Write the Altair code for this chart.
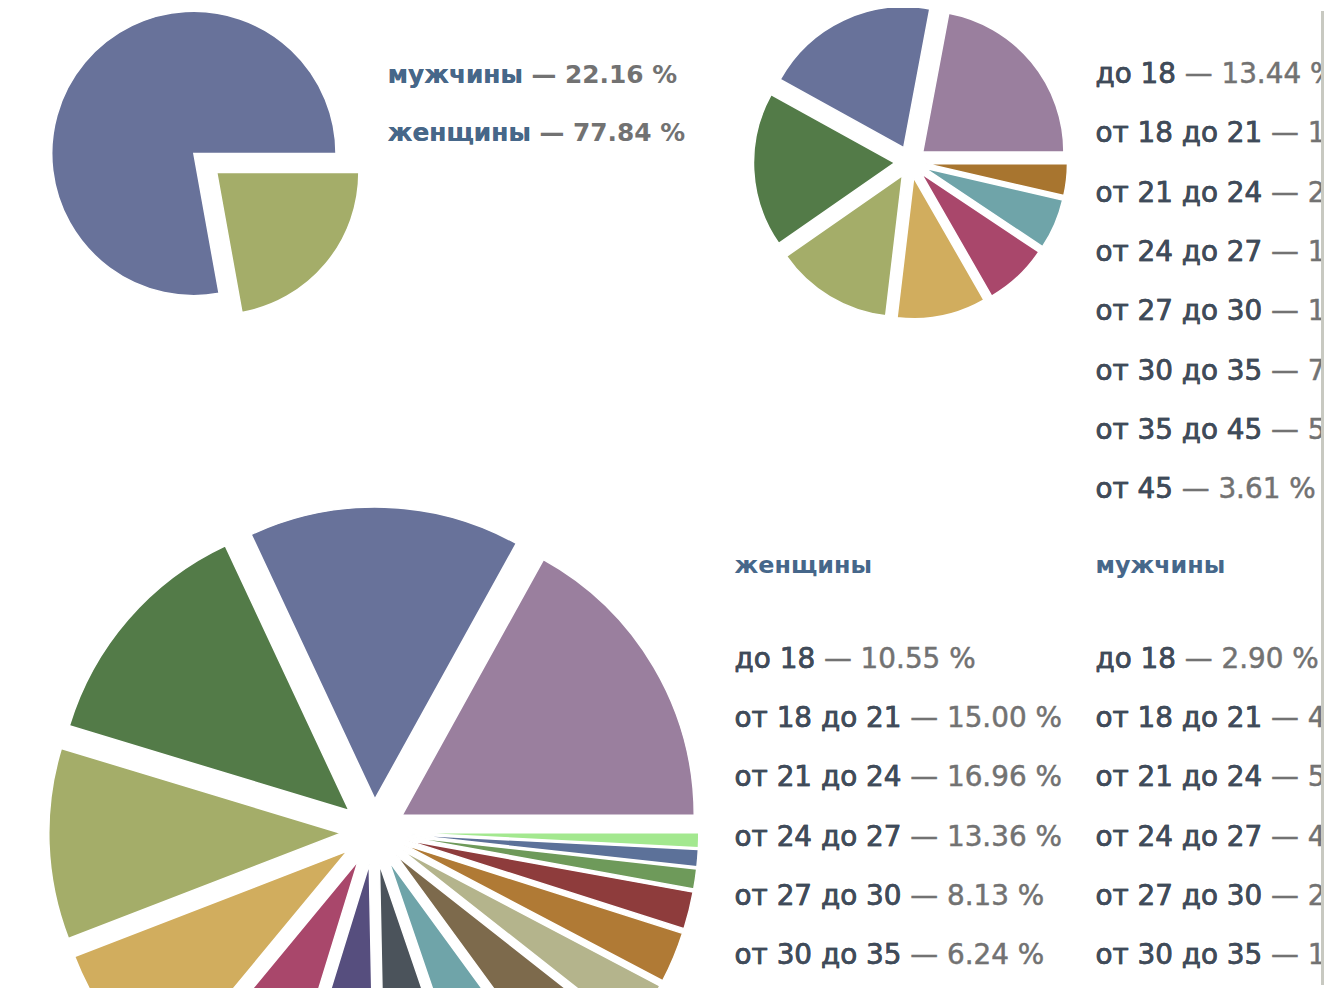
import math
import altair as alt
import pandas as pd

# ---------------- data ----------------
sex_labels = ["мужчины", "женщины"]
sex_values = [22.16, 77.84]
sex_colors = ["#a4ad69", "#68729a"]

age_labels = ["до 18", "от 18 до 21", "от 21 до 24", "от 24 до 27",
              "от 27 до 30", "от 30 до 35", "от 35 до 45", "от 45"]
age_values = [13.44, 19.92, 22.04, 17.71, 10.18, 7.34, 5.75, 3.61]
age_colors = ["#a4ad69", "#68729a", "#9a7f9e", "#537b48",
              "#d1ad5e", "#a9476b", "#6fa4a9", "#a8752f"]

women_values = [10.55, 15.00, 16.96, 13.36, 8.13, 6.24, 4.80, 2.80]
men_values = [2.90, 4.92, 5.08, 4.35, 2.05, 1.10, 0.95, 0.81]
women_colors = ["#a4ad69", "#68729a", "#9a7f9e", "#537b48",
                "#d1ad5e", "#a9476b", "#6fa4a9", "#b07a35"]
men_colors = ["#b4b48c", "#4b535b", "#564e7e", "#7d6a4c",
              "#8e3c3c", "#6e9a5a", "#5c7199", "#a3e88f"]

header_labels = ["женщины", "мужчины"]

W, H = 1324, 980
FONT = "DejaVu Sans"
LABEL_COLOR = "#3f4b5a"
VALUE_COLOR = "#727272"
HEAD_COLOR = "#46678a"


def pie_layer(labels, values, colors, cx, cy, r, d):
    df = pd.DataFrame({"label": labels, "value": values, "color": colors})
    return (
        alt.Chart(df)
        .transform_joinaggregate(total="sum(value)")
        .transform_window(cum="sum(value)",
                          sort=[alt.SortField("value", order="ascending")],
                          frame=[None, 0])
        .transform_calculate(
            start="(datum.cum - datum.value) / datum.total",
            end="datum.cum / datum.total",
            mid="PI / 2 + 2 * PI * (datum.cum - datum.value / 2) / datum.total",
        )
        .transform_calculate(ox="sin(datum.mid)", oy="-cos(datum.mid)")
        .mark_arc(radius=r, stroke="white", strokeWidth=1.5)
        .encode(
            theta=alt.Theta("start:Q", scale=alt.Scale(
                domain=[0, 1], range=[math.pi / 2, math.pi / 2 + 2 * math.pi])),
            theta2="end:Q",
            x=alt.X("ox:Q", axis=None, scale=alt.Scale(
                domain=[-1, 1], range=[cx - d, cx + d], nice=False, zero=False)),
            y=alt.Y("oy:Q", axis=None, scale=alt.Scale(
                domain=[-1, 1], range=[cy - d, cy + d], nice=False, zero=False)),
            color=alt.Color("color:N", scale=None),
        )
    )


def text_layer(texts, x, y0, step, color, size, weight="normal", sw=0.5):
    df = pd.DataFrame({"t": texts})
    n = len(texts)
    return (
        alt.Chart(df)
        .mark_text(align="left", baseline="alphabetic", font=FONT,
                   fontSize=size, fontWeight=weight, color=color,
                   stroke=color, strokeWidth=sw)
        .encode(
            x=alt.value(x),
            y=alt.Y("t:N", sort=None, axis=None, scale=alt.Scale(
                type="point", domain=texts,
                range=[y0, y0 + step * max(n - 1, 1)], padding=0)),
            text="t:N",
        )
    )


def fmt(labels, values):
    return [f"{l} — {v:.2f} %" for l, v in zip(labels, values)]


layers = []
# pies
layers.append(pie_layer(sex_labels, sex_values, sex_colors, 198.5, 153, 143, 15))
layers.append(pie_layer(age_labels, age_values, age_colors, 908, 152, 142, 16))
layers.append(pie_layer(
    [f"ж {a}" for a in age_labels] + [f"м {a}" for a in age_labels],
    women_values + men_values, women_colors + men_colors, 368, 826, 294, 33))

# legend 1 (sex)
layers.append(text_layer(fmt(sex_labels, sex_values), 382, 72, 59, VALUE_COLOR, 25, "bold", 0))
layers.append(text_layer(sex_labels, 382, 72, 59, HEAD_COLOR, 25, "bold", 0))

# legend 2 (age)
X2 = 1094
layers.append(text_layer(fmt(age_labels, age_values), X2, 72.5, 59.7, VALUE_COLOR, 28))
layers.append(text_layer(age_labels, X2, 72.5, 59.7, LABEL_COLOR, 28))

# legend 3 (sex x age)
X3 = 731
layers.append(text_layer(header_labels, X3, 566, 362, HEAD_COLOR, 24, "bold", 0).encode(
    x=alt.X("t:N", sort=None, axis=None, scale=alt.Scale(
        type="point", domain=header_labels, range=[X3, X2], padding=0)),
    y=alt.value(565)))
layers.append(text_layer(fmt(age_labels, women_values), X3, 661, 59.6, VALUE_COLOR, 28))
layers.append(text_layer(age_labels, X3, 661, 59.6, LABEL_COLOR, 28))
layers.append(text_layer(fmt(age_labels, men_values), X2, 661, 59.6, VALUE_COLOR, 28))
layers.append(text_layer(age_labels, X2, 661, 59.6, LABEL_COLOR, 28))

# grey frame strip at the right edge
layers.append(
    alt.Chart(pd.DataFrame({"a": [0]})).mark_rect(color="#c8c9c1").encode(
        x=alt.value(W - 3), x2=alt.value(W), y=alt.value(0), y2=alt.value(H))
)

chart = (
    alt.layer(*layers)
    .resolve_scale(x="independent", y="independent", theta="independent", color="independent")
    .properties(width=W, height=H, padding=0, background="white",
                autosize=alt.AutoSizeParams(type="none"))
    .configure_view(stroke=None)
)

chart.save("out.html", embed_options={"renderer": "svg", "actions": False})
